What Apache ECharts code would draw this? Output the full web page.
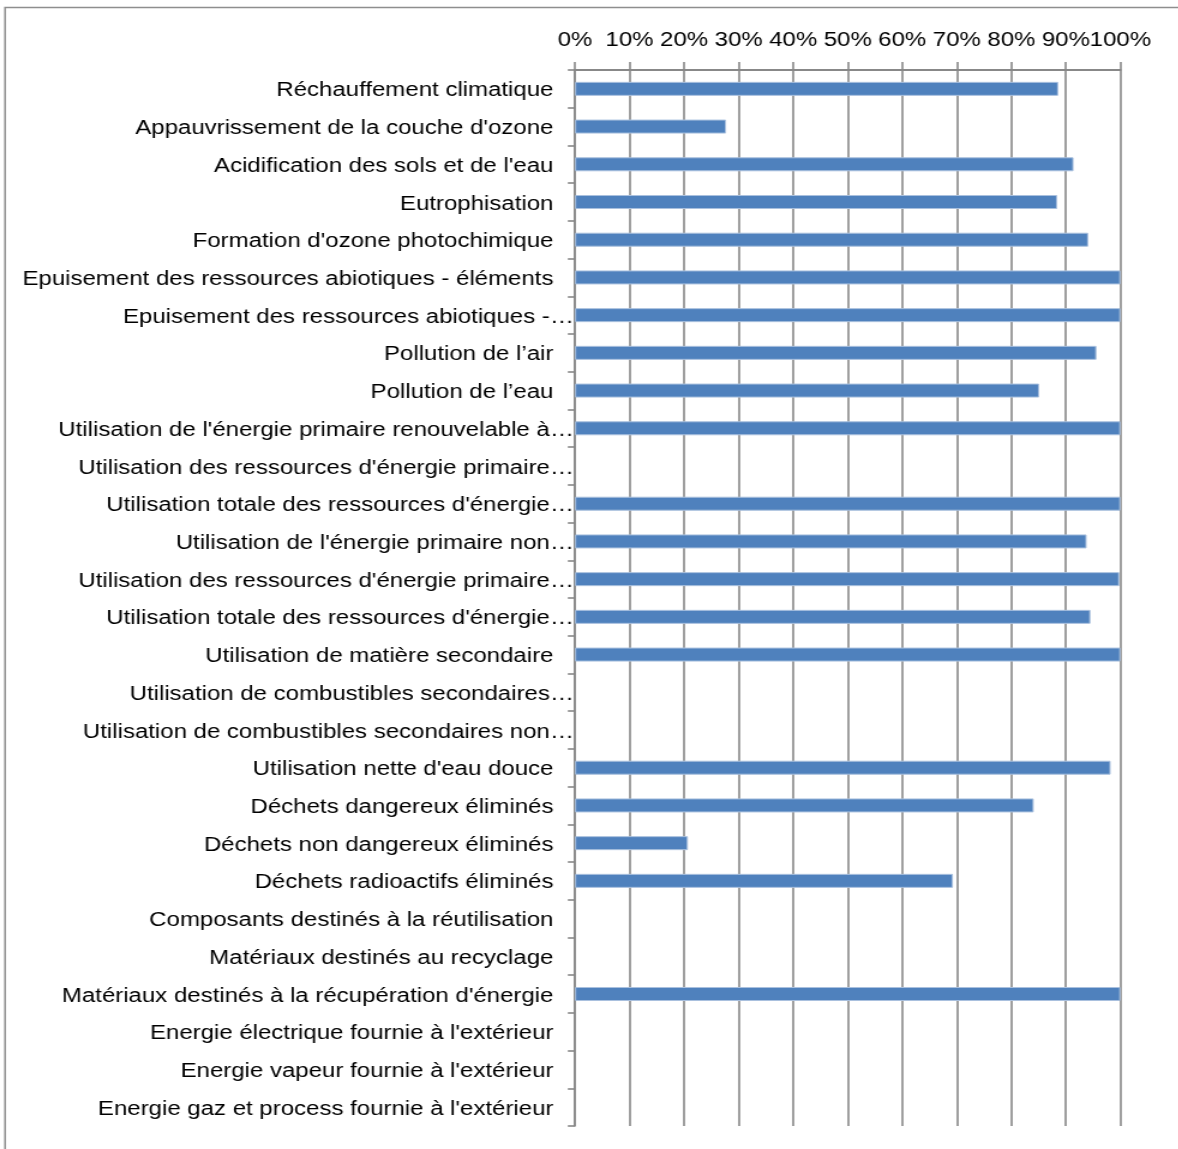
<!DOCTYPE html>
<html>
<head>
<meta charset="utf-8">
<script src="https://cdn.jsdelivr.net/npm/echarts@6/dist/echarts.min.js"></script>
<style>
  html, body { margin: 0; padding: 0; background: #fff; overflow: hidden; }
  #wrap { position: absolute; left: 0; top: 0; width: 1178px; height: 1149px; overflow: hidden; }
  #chart { position: absolute; left: 0; top: 0; height: 1149px; transform-origin: 0 0; }
</style>
</head>
<body>
<div id="wrap"><div id="chart"></div></div>
<script>
const categories = [
  "Réchauffement climatique",
  "Appauvrissement de la couche d'ozone",
  "Acidification des sols et de l'eau",
  "Eutrophisation",
  "Formation d'ozone photochimique",
  "Epuisement des ressources abiotiques - éléments",
  "Epuisement des ressources abiotiques -…",
  "Pollution de l’air",
  "Pollution de l’eau",
  "Utilisation de l'énergie primaire renouvelable à…",
  "Utilisation des ressources d'énergie primaire…",
  "Utilisation totale des ressources d'énergie…",
  "Utilisation de l'énergie primaire non…",
  "Utilisation des ressources d'énergie primaire…",
  "Utilisation totale des ressources d'énergie…",
  "Utilisation de matière secondaire",
  "Utilisation de combustibles secondaires…",
  "Utilisation de combustibles secondaires non…",
  "Utilisation nette d'eau douce",
  "Déchets dangereux éliminés",
  "Déchets non dangereux éliminés",
  "Déchets radioactifs éliminés",
  "Composants destinés à la réutilisation",
  "Matériaux destinés au recyclage",
  "Matériaux destinés à la récupération d'énergie",
  "Energie électrique fournie à l'extérieur",
  "Energie vapeur fournie à l'extérieur",
  "Energie gaz et process fournie à l'extérieur"
];
const values = [
  88.6, 27.7, 91.4, 88.4, 94.1, 100, 100, 95.6, 85.1, 100,
  null, 100, 93.8, 99.8, 94.5, 100, null, null, 98.2, 84.1,
  20.7, 69.3, null, null, 100, null, null, null
];
const tickLabels = ["0%", "10%", "20%", "30%", "40%", "50%", "60%", "70%", "80%", "90%", "100%"];

const S = 1.2; // horizontal stretch of the original picture
const W = 1178 / S;
const el = document.getElementById('chart');
el.style.width = W + 'px';
el.style.transform = 'scaleX(' + S + ')';

const chart = echarts.init(el, null, { renderer: 'canvas' });
const FONT = '"Liberation Sans", Arial, sans-serif';
const GRAY = '#888888';

chart.setOption({
  animation: false,
  backgroundColor: '#ffffff',
  textStyle: { fontFamily: FONT },
  graphic: [{
    type: 'rect',
    shape: { x: 4.2, y: 7.5, width: 3000, height: 3000 },
    style: { fill: 'none', stroke: '#8e8e8e', lineWidth: 1.5 },
    silent: true
  }],
  grid: { left: 575 / S, right: W - 1120 / S, top: 70, bottom: 23, containLabel: false },
  xAxis: {
    type: 'value',
    position: 'top',
    min: 0,
    max: 100,
    interval: 10,
    axisLine: { show: true, lineStyle: { color: GRAY, width: 2 } },
    axisTick: { show: true, length: 8, lineStyle: { color: GRAY, width: 1.6 } },
    splitLine: { show: true, lineStyle: { color: GRAY, width: 1.6 } },
    axisLabel: {
      margin: 20,
      color: '#000',
      fontSize: 20,
      fontFamily: FONT,
      formatter: function (v) { return tickLabels[Math.round(v / 10)]; }
    }
  },
  yAxis: {
    type: 'category',
    inverse: true,
    data: categories,
    axisLine: { show: true, lineStyle: { color: GRAY, width: 1.6 } },
    axisTick: { show: true, length: 6, lineStyle: { color: GRAY, width: 1.6 } },
    splitLine: { show: false },
    axisLabel: {
      margin: 1,
      color: '#000',
      fontSize: 20,
      fontFamily: FONT,
      formatter: function (v, i) {
        const t = categories[i];
        return t.endsWith('…') ? '{t|' + t + '}' : '{n|' + t + '}';
      },
      rich: {
        t: { fontSize: 20, color: '#000', fontFamily: FONT, padding: [4, 0, 0, 0] },
        n: { fontSize: 20, color: '#000', fontFamily: FONT, padding: [4, 17, 0, 0] }
      }
    }
  },
  series: [{
    type: 'bar',
    data: values,
    barWidth: 14,
    itemStyle: { color: '#4F81BD', borderColor: '#a9c0de', borderWidth: 1 }
  }]
});
</script>
</body>
</html>
